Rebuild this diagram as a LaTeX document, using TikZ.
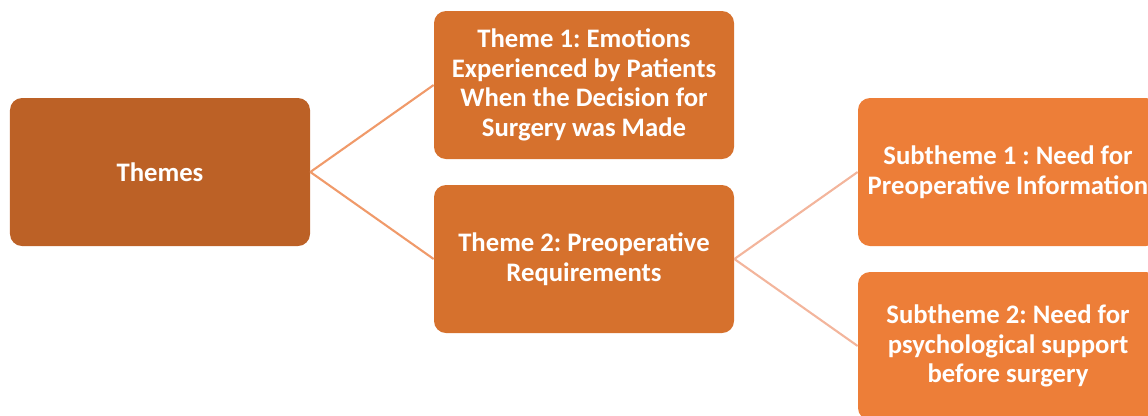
\documentclass[tikz,border=0pt]{standalone}
\usepackage{fontspec}
\setmainfont{Carlito}
\frenchspacing
\usetikzlibrary{positioning}
\definecolor{rootfill}{HTML}{BC6126}
\definecolor{themefill}{HTML}{D6712D}
\definecolor{subfill}{HTML}{ED7E38}
\definecolor{rootline}{HTML}{F09A6A}
\definecolor{subline}{HTML}{F3B59C}
\tikzset{every node/.style={shape=rectangle, rounded corners=0.24cm, text=white,
    font=\fontsize{15.2}{16.9}\selectfont\bfseries, align=center,
    minimum width=6cm, minimum height=2.96cm}}
\tikzset{every edge/.style={draw, line width=1.2pt}}

\begin{document}
\begin{tikzpicture}[on grid]
  \useasboundingbox (-3.2,3.44) rectangle (19.76,-4.86);
  \node (Themes) [fill=rootfill] {Themes};
  \node (Theme1) [fill=themefill, above right=1.74cm and 8.48cm of Themes] {Theme 1: Emotions\\Experienced by Patients\\When the Decision for\\Surgery was Made};
  \node (Theme2) [fill=themefill, below right=1.74cm and 8.48cm of Themes] {Theme 2: Preoperative\\Requirements};
  \node (Sub1) [fill=subfill, above right=1.74cm and 8.48cm of Theme2] {Subtheme 1 : Need for\\Preoperative Information};
  \node (Sub2) [fill=subfill, below right=1.74cm and 8.48cm of Theme2] {Subtheme 2: Need for\\psychological support\\before surgery};

  \path (Themes.east) edge[rootline] (Theme1.west);
  \path (Themes.east) edge[rootline] (Theme2.west);

  \path (Theme2.east) edge[subline] (Sub1.west);
  \path (Theme2.east) edge[subline] (Sub2.west);
\end{tikzpicture}
\end{document}
